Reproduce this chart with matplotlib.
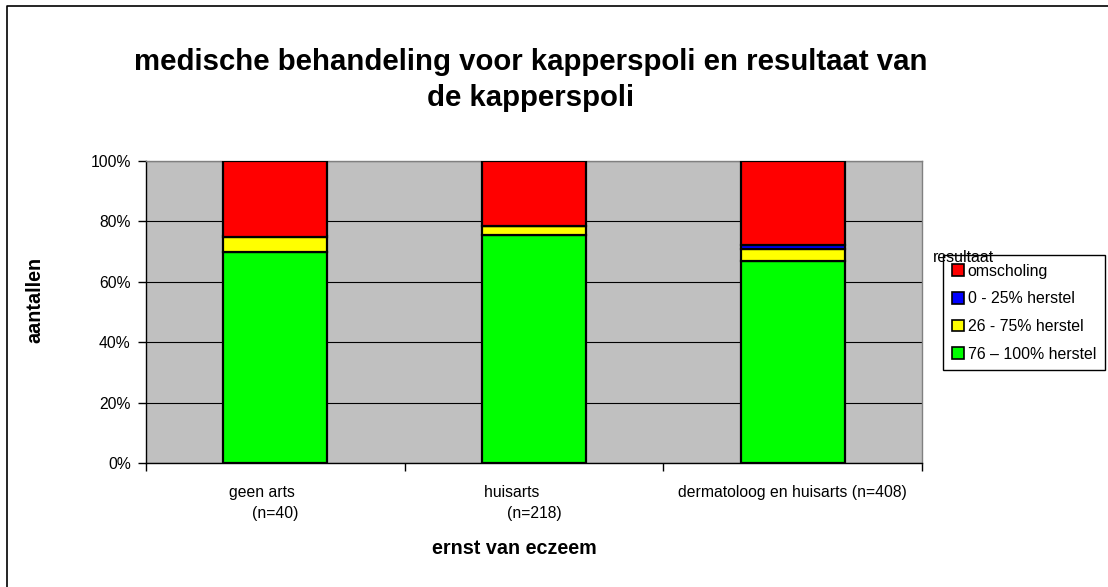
import numpy as np
import matplotlib.pyplot as plt
from matplotlib.patches import Patch
from matplotlib.lines import Line2D

plt.rcParams['font.family'] = ['Liberation Sans', 'DejaVu Sans']

# data (percentages per group)
categories = ['geen arts      \n(n=40)', 'huisarts          \n(n=218)',
              'dermatoloog en huisarts (n=408)']
series_names = ['76 \u2013 100% herstel', '26 - 75% herstel',
                '0 - 25% herstel', 'omscholing']
herstel_76_100 = [70.0, 75.5, 66.9]
herstel_26_75 = [5.0, 3.0, 4.0]
herstel_0_25 = [0.0, 0.0, 1.4]
omscholing = [25.0, 21.5, 27.7]
yticks = [0, 20, 40, 60, 80, 100]
ytick_labels = ['0%', '20%', '40%', '60%', '80%', '100%']

colors = ['#00FF00', '#FFFF00', '#0000FF', '#FF0000']
values = [herstel_76_100, herstel_26_75, herstel_0_25, omscholing]

W, H = 1108, 587
fig = plt.figure(figsize=(W / 100, H / 100), dpi=100)
ax = fig.add_axes([146 / W, 1 - 463 / H, (922 - 146) / W, (463 - 161) / H])
ax.set_facecolor('#C0C0C0')

x = np.arange(len(categories))
bottom = np.zeros(len(categories))
for vals, col in zip(values, colors):
    ax.bar(x, vals, width=0.403, bottom=bottom, color=col,
           edgecolor='black', linewidth=1.6, zorder=3)
    bottom += np.array(vals)

ax.set_ylim(0, 100)
ax.set_xlim(-0.5, 2.5)
ax.set_yticks(yticks)
ax.set_yticklabels(ytick_labels, fontsize=11.3)
ax.grid(axis='y', color='black', linewidth=0.8, zorder=1)

# category boundaries as ticks, labels centred under bars
ax.set_xticks([-0.5, 0.5, 1.5, 2.5])
ax.set_xticklabels([])
ax.set_xticks(x, minor=True)
ax.set_xticklabels(categories, minor=True, fontsize=11.3, linespacing=1.5)
ax.tick_params(axis='x', which='minor', length=0, pad=16)
ax.tick_params(axis='both', which='major', length=6, width=1, direction='out')
ax.tick_params(axis='y', pad=5)

for side in ['top', 'right']:
    ax.spines[side].set_color('#808080')
    ax.spines[side].set_linewidth(1)
for side in ['left', 'bottom']:
    ax.spines[side].set_color('black')
    ax.spines[side].set_linewidth(1)

# title and axis labels
fig.text(531 / W, 1 - 80 / H,
         'medische behandeling voor kapperspoli en resultaat van\nde kapperspoli',
         ha='center', va='center', fontsize=21.2, fontweight='bold',
         linespacing=1.4)
fig.text(514 / W, 1 - 548 / H, 'ernst van eczeem', ha='center', va='center',
         fontsize=14.2, fontweight='bold')
fig.text(35 / W, 1 - 300 / H, 'aantallen', ha='center', va='center',
         rotation=90, fontsize=14.2, fontweight='bold')

# legend, top entry first
handles = [Patch(facecolor=c, edgecolor='black', linewidth=1.2)
           for c in colors[::-1]]
leg = ax.legend(handles, series_names[::-1], loc='upper left',
                bbox_to_anchor=(943 / W, 1 - 255 / H),
                bbox_transform=fig.transFigure, fontsize=11.4, frameon=True,
                fancybox=False, edgecolor='black', framealpha=1,
                handlelength=0.75, handleheight=0.75, handletextpad=0.25,
                labelspacing=0.8, borderpad=0.55, borderaxespad=0)
leg.get_frame().set_linewidth(1)
fig.text(933 / W, 1 - 262 / H, 'resultaat', ha='left', va='baseline',
         fontsize=11.4)

# outer chart border (left and top)
fig.add_artist(Line2D([7 / W, 7 / W, 1], [0, 1 - 6 / H, 1 - 6 / H],
                      transform=fig.transFigure, color='black', linewidth=1.2))

fig.savefig('out.png', dpi=100)
